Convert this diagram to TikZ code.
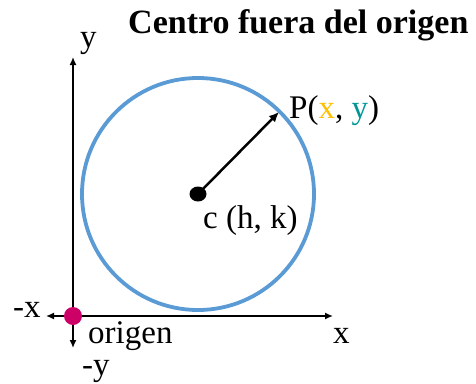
\documentclass[tikz,border=0pt]{standalone}
\usepackage{fontspec}
\setmainfont{Liberation Serif}
\usetikzlibrary{arrows.meta}
\definecolor{circblue}{RGB}{91,155,213}
\definecolor{origmag}{RGB}{204,0,102}
\definecolor{xgold}{RGB}{255,192,0}
\definecolor{yteal}{RGB}{0,150,150}
\tikzset{
  axis/.style={line width=1.5pt,-{Latex[length=8pt,width=7pt]}},
  lbl/.style={font=\fontsize{33}{33}\selectfont,inner sep=0pt,anchor=base west},
}
\begin{document}
\begin{tikzpicture}[x=1pt,y=-1pt]
\useasboundingbox (0,0) rectangle (476,383);
% ejes
\coordinate (orig) at (73,316);
\coordinate (ytop) at (73,57);
\coordinate (ybot) at (73,348);
\coordinate (xright) at (333,316);
\coordinate (xleft) at (46,316);
\draw[axis] (orig) -- (ytop);
\draw[axis] (orig) -- (ybot);
\draw[axis] (orig) -- (xright);
\draw[axis] (orig) -- (xleft);
% circulo
\coordinate (cen) at (198,194);
\draw[circblue,line width=3.8pt] (cen) circle[radius=116pt];
\coordinate (pt) at (279,112);
\draw[line width=2.5pt,-{Latex[length=10pt,width=9pt]}] (cen) -- (pt);
\fill (cen) circle[x radius=8.5pt,y radius=7.5pt];
\fill[origmag] (orig) circle[radius=9pt];
% textos
\node[lbl,font=\fontsize{34}{34}\selectfont\bfseries] (title) at (128,33) {Centro fuera del origen};
\node[lbl] (ylab) at (80,47) {y};
\node[lbl] (mxlab) at (13,317) {-x};
\node[lbl] (xlab) at (333,343) {x};
\node[lbl] (origlab) at (88,343) {origen};
\node[lbl] (mylab) at (82,375) {-y};
\node[lbl] (plab) at (289,118) {P(\textcolor{xgold}{x}, \textcolor{yteal}{y})};
\node[lbl] (clab) at (203,228) {c (h, k)};
\end{tikzpicture}
\end{document}
